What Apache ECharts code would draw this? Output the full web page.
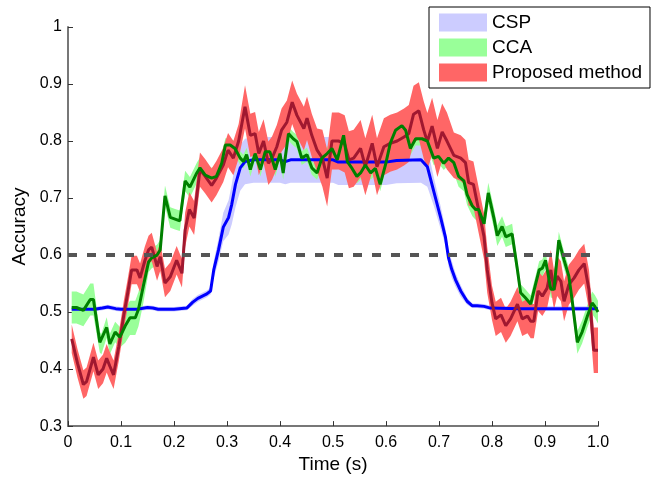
<!DOCTYPE html>
<html lang="en">
<head>
<meta charset="UTF-8">
<title>Accuracy over time</title>
<script src="https://cdn.jsdelivr.net/npm/echarts@6/dist/echarts.min.js"></script>
<style>
    html, body { margin: 0; padding: 0; background: #fff; }
    #chart { width: 662px; height: 479px; }
</style>
</head>
<body>
<div id="chart"></div>
<script type="text/javascript">
    // CSP: time, mean accuracy, half-width of the shaded band
    var cspT = [0.007, 0.030, 0.050, 0.065, 0.075, 0.090, 0.100, 0.130, 0.150, 0.160,
                0.170, 0.200, 0.224, 0.235, 0.245, 0.262, 0.269, 0.275, 0.284, 0.293,
                0.303, 0.309, 0.316, 0.325, 0.334, 0.350, 0.400, 0.410, 0.420, 0.500,
                0.510, 0.600, 0.620, 0.666, 0.678, 0.690, 0.703, 0.712, 0.718, 0.724,
                0.731, 0.741, 0.753, 0.763, 0.772, 0.785, 0.797, 0.850, 1.000];
    var cspV = [0.505, 0.505, 0.505, 0.507, 0.509, 0.506, 0.505, 0.505, 0.508, 0.507,
                0.505, 0.505, 0.507, 0.517, 0.524, 0.532, 0.537, 0.574, 0.609, 0.649,
                0.666, 0.689, 0.724, 0.753, 0.764, 0.767, 0.767, 0.764, 0.767, 0.767,
                0.763, 0.763, 0.766, 0.767, 0.755, 0.712, 0.666, 0.632, 0.595, 0.575,
                0.557, 0.537, 0.519, 0.511, 0.511, 0.510, 0.507, 0.506, 0.506];
    var cspErr = [0.004, 0.004, 0.004, 0.004, 0.004, 0.004, 0.004, 0.004, 0.004, 0.004,
                  0.004, 0.004, 0.004, 0.006, 0.006, 0.006, 0.006, 0.015, 0.020, 0.025,
                  0.030, 0.035, 0.040, 0.040, 0.040, 0.040, 0.040, 0.040, 0.040, 0.040,
                  0.040, 0.040, 0.040, 0.040, 0.035, 0.025, 0.020, 0.015, 0.015, 0.015,
                  0.012, 0.010, 0.006, 0.004, 0.004, 0.004, 0.004, 0.004, 0.004];

    // CCA
    var ccaT = [0.007, 0.016, 0.029, 0.042, 0.048, 0.060, 0.063, 0.073, 0.079, 0.089,
                0.098, 0.108, 0.117, 0.127, 0.133, 0.142, 0.152, 0.158, 0.168, 0.174,
                0.183, 0.193, 0.202, 0.211, 0.221, 0.230, 0.243, 0.249, 0.259, 0.271,
                0.280, 0.290, 0.297, 0.306, 0.315, 0.325, 0.331, 0.337, 0.344, 0.353,
                0.363, 0.372, 0.381, 0.391, 0.400, 0.406, 0.416, 0.425, 0.432, 0.441,
                0.451, 0.460, 0.470, 0.479, 0.489, 0.498, 0.508, 0.520, 0.527, 0.536,
                0.545, 0.552, 0.561, 0.571, 0.580, 0.589, 0.599, 0.608, 0.618, 0.630,
                0.637, 0.646, 0.656, 0.668, 0.678, 0.690, 0.699, 0.709, 0.718, 0.728,
                0.737, 0.747, 0.753, 0.763, 0.769, 0.775, 0.785, 0.793, 0.804, 0.810,
                0.819, 0.826, 0.838, 0.848, 0.854, 0.863, 0.873, 0.882, 0.889, 0.895,
                0.901, 0.911, 0.917, 0.926, 0.936, 0.945, 0.951, 0.961, 0.970, 0.980,
                0.989, 0.994, 1.000];
    var ccaV = [0.508, 0.508, 0.503, 0.522, 0.522, 0.447, 0.444, 0.473, 0.444, 0.465,
                0.456, 0.476, 0.490, 0.490, 0.505, 0.545, 0.588, 0.595, 0.600, 0.609,
                0.704, 0.666, 0.663, 0.660, 0.730, 0.719, 0.744, 0.753, 0.740, 0.735,
                0.738, 0.761, 0.793, 0.793, 0.787, 0.770, 0.764, 0.776, 0.750, 0.778,
                0.750, 0.781, 0.781, 0.750, 0.778, 0.744, 0.813, 0.804, 0.799, 0.770,
                0.776, 0.753, 0.744, 0.770, 0.778, 0.787, 0.767, 0.810, 0.764, 0.752,
                0.738, 0.744, 0.758, 0.744, 0.752, 0.724, 0.758, 0.796, 0.819, 0.827,
                0.819, 0.787, 0.804, 0.804, 0.800, 0.770, 0.773, 0.761, 0.770, 0.762,
                0.738, 0.730, 0.706, 0.686, 0.680, 0.680, 0.655, 0.709, 0.663, 0.634,
                0.650, 0.632, 0.637, 0.574, 0.534, 0.525, 0.514, 0.548, 0.574, 0.577,
                0.591, 0.540, 0.540, 0.626, 0.591, 0.563, 0.522, 0.447, 0.465, 0.493,
                0.516, 0.510, 0.500];
    var ccaErr = [0.028, 0.028, 0.028, 0.028, 0.028, 0.018, 0.018, 0.018, 0.018, 0.018,
                  0.018, 0.030, 0.030, 0.030, 0.030, 0.030, 0.018, 0.018, 0.018, 0.018,
                  0.018, 0.018, 0.018, 0.018, 0.018, 0.018, 0.018, 0.018, 0.018, 0.018,
                  0.018, 0.018, 0.012, 0.012, 0.012, 0.012, 0.012, 0.012, 0.012, 0.012,
                  0.012, 0.012, 0.012, 0.012, 0.012, 0.012, 0.012, 0.012, 0.012, 0.012,
                  0.012, 0.012, 0.012, 0.012, 0.012, 0.012, 0.012, 0.012, 0.012, 0.012,
                  0.012, 0.012, 0.012, 0.012, 0.012, 0.012, 0.012, 0.012, 0.012, 0.012,
                  0.012, 0.012, 0.012, 0.012, 0.012, 0.012, 0.012, 0.012, 0.012, 0.018,
                  0.018, 0.018, 0.018, 0.018, 0.018, 0.018, 0.018, 0.018, 0.018, 0.018,
                  0.018, 0.018, 0.018, 0.015, 0.015, 0.015, 0.015, 0.015, 0.015, 0.015,
                  0.015, 0.015, 0.015, 0.015, 0.015, 0.015, 0.015, 0.020, 0.020, 0.020,
                  0.020, 0.020, 0.020];

    // Proposed method
    var propT = [0.007, 0.018, 0.029, 0.035, 0.048, 0.057, 0.066, 0.073, 0.079, 0.086,
                 0.096, 0.105, 0.113, 0.120, 0.130, 0.136, 0.145, 0.152, 0.158, 0.168,
                 0.174, 0.183, 0.193, 0.205, 0.215, 0.221, 0.229, 0.238, 0.249, 0.259,
                 0.271, 0.280, 0.293, 0.302, 0.312, 0.322, 0.334, 0.344, 0.353, 0.360,
                 0.369, 0.378, 0.385, 0.394, 0.403, 0.413, 0.423, 0.432, 0.445, 0.451,
                 0.460, 0.470, 0.480, 0.489, 0.498, 0.511, 0.522, 0.530, 0.539, 0.552,
                 0.561, 0.574, 0.583, 0.596, 0.608, 0.621, 0.634, 0.643, 0.652, 0.662,
                 0.671, 0.678, 0.687, 0.697, 0.706, 0.715, 0.728, 0.741, 0.750, 0.756,
                 0.765, 0.775, 0.785, 0.791, 0.800, 0.807, 0.817, 0.826, 0.835, 0.848,
                 0.857, 0.867, 0.873, 0.879, 0.887, 0.895, 0.904, 0.911, 0.917, 0.923,
                 0.930, 0.936, 0.945, 0.955, 0.964, 0.974, 0.983, 0.992, 1.000];
    var propV = [0.453, 0.410, 0.373, 0.378, 0.421, 0.390, 0.400, 0.419, 0.405, 0.390,
                 0.440, 0.493, 0.535, 0.574, 0.574, 0.560, 0.590, 0.609, 0.614, 0.580,
                 0.597, 0.551, 0.562, 0.591, 0.568, 0.644, 0.680, 0.665, 0.750, 0.738,
                 0.722, 0.735, 0.758, 0.784, 0.770, 0.800, 0.860, 0.810, 0.813, 0.778,
                 0.800, 0.761, 0.770, 0.790, 0.819, 0.833, 0.868, 0.845, 0.822, 0.840,
                 0.810, 0.784, 0.770, 0.735, 0.800, 0.800, 0.795, 0.767, 0.770, 0.787,
                 0.755, 0.796, 0.755, 0.790, 0.796, 0.800, 0.807, 0.813, 0.847, 0.853,
                 0.820, 0.799, 0.826, 0.787, 0.816, 0.800, 0.775, 0.770, 0.762, 0.727,
                 0.724, 0.678, 0.632, 0.574, 0.516, 0.488, 0.495, 0.476, 0.488, 0.514,
                 0.488, 0.493, 0.484, 0.484, 0.537, 0.528, 0.542, 0.574, 0.539, 0.563,
                 0.554, 0.519, 0.548, 0.560, 0.574, 0.585, 0.539, 0.433, 0.433];
    var propErr = [0.025, 0.025, 0.025, 0.025, 0.025, 0.025, 0.025, 0.025, 0.025, 0.025,
                   0.025, 0.025, 0.025, 0.025, 0.025, 0.025, 0.025, 0.025, 0.025, 0.025,
                   0.025, 0.025, 0.025, 0.025, 0.025, 0.030, 0.030, 0.030, 0.030, 0.030,
                   0.030, 0.030, 0.030, 0.030, 0.030, 0.030, 0.038, 0.038, 0.038, 0.038,
                   0.038, 0.038, 0.038, 0.038, 0.038, 0.038, 0.038, 0.038, 0.038, 0.038,
                   0.038, 0.038, 0.050, 0.050, 0.050, 0.050, 0.050, 0.050, 0.050, 0.050,
                   0.050, 0.050, 0.050, 0.050, 0.050, 0.050, 0.050, 0.050, 0.050, 0.050,
                   0.050, 0.050, 0.050, 0.050, 0.050, 0.050, 0.040, 0.040, 0.040, 0.040,
                   0.040, 0.040, 0.040, 0.040, 0.030, 0.030, 0.030, 0.030, 0.030, 0.030,
                   0.030, 0.030, 0.030, 0.030, 0.035, 0.035, 0.035, 0.035, 0.035, 0.035,
                   0.035, 0.035, 0.035, 0.035, 0.035, 0.035, 0.035, 0.040, 0.040];

    var chanceLevel = 0.6;
    var font = 'Liberation Sans, Arial, Helvetica, sans-serif';

    function pairs(t, v) {
        return t.map(function (x, i) { return [x, v[i]]; });
    }

    // shaded band: polygon over upper edge, back along lower edge
    function band(name, t, v, e, color) {
        return {
            name: name,
            type: 'custom',
            z: 1,
            silent: true,
            itemStyle: { color: color },
            data: [[t[0], v[0]]],
            renderItem: function (params, api) {
                var pts = [];
                for (var i = 0; i < t.length; i++) pts.push(api.coord([t[i], v[i] + e[i]]));
                for (var j = t.length - 1; j >= 0; j--) pts.push(api.coord([t[j], v[j] - e[j]]));
                return { type: 'polygon', shape: { points: pts }, style: { fill: color } };
            }
        };
    }

    function line(name, t, v, color, z) {
        return {
            name: name,
            type: 'line',
            z: z,
            data: pairs(t, v),
            showSymbol: false,
            silent: true,
            lineStyle: { color: color, width: 3 },
            itemStyle: { color: color }
        };
    }

    var chart = echarts.init(document.getElementById('chart'));
    chart.setOption({
        animation: false,
        textStyle: { fontFamily: font },
        grid: { left: 68, right: 64, top: 27, bottom: 47, containLabel: false },
        legend: {
            orient: 'vertical',
            left: 429,
            top: 7,
            padding: [5, 8, 5, 10],
            itemGap: 4,
            itemWidth: 48,
            itemHeight: 18,
            selectedMode: false,
            backgroundColor: '#fff',
            borderColor: '#000',
            borderWidth: 1,
            borderRadius: 0,
            textStyle: { fontSize: 19, color: '#000', lineHeight: 21, fontFamily: font },
            data: [
                { name: 'CSP', icon: 'rect', itemStyle: { color: '#ccccff', borderWidth: 0 } },
                { name: 'CCA', icon: 'rect', itemStyle: { color: '#99ff99', borderWidth: 0 } },
                { name: 'Proposed method', icon: 'rect', itemStyle: { color: '#ff6666', borderWidth: 0 } }
            ]
        },
        xAxis: {
            type: 'value',
            min: 0,
            max: 1,
            interval: 0.1,
            name: 'Time (s)',
            nameLocation: 'middle',
            nameGap: 24,
            nameTextStyle: { fontSize: 19, color: '#000', fontFamily: font },
            axisLine: { lineStyle: { color: '#777', width: 2 } },
            axisTick: { inside: true, length: 5, lineStyle: { color: '#333', width: 1 } },
            splitLine: { show: false },
            axisLabel: {
                color: '#000', fontSize: 16, margin: 8, fontFamily: font,
                formatter: function (v) { return v === 0 ? '0' : v.toFixed(1); }
            }
        },
        yAxis: {
            type: 'value',
            min: 0.3,
            max: 1,
            interval: 0.1,
            name: 'Accuracy',
            nameLocation: 'middle',
            nameRotate: 90,
            nameGap: 35,
            nameTextStyle: { fontSize: 19, color: '#000', fontFamily: font },
            axisLine: { show: true, lineStyle: { color: '#777', width: 2 } },
            axisTick: { show: true, inside: true, length: 5, lineStyle: { color: '#333', width: 1 } },
            splitLine: { show: false },
            axisLabel: {
                color: '#000', fontSize: 16, margin: 6, fontFamily: font,
                formatter: function (v) { return v > 0.999 ? '1' : v.toFixed(1); }
            }
        },
        series: [
            band('CSP', cspT, cspV, cspErr, '#ccccff'),
            band('CCA', ccaT, ccaV, ccaErr, '#99ff99'),
            band('Proposed method', propT, propV, propErr, '#ff6666'),
            line('CSP', cspT, cspV, '#0000ff', 3),
            line('Proposed method', propT, propV, '#a01830', 4),
            line('CCA', ccaT, ccaV, '#008000', 5),
            {
                name: 'chance',
                type: 'line',
                z: 6,
                silent: true,
                showSymbol: false,
                data: [[0, chanceLevel], [1, chanceLevel]],
                lineStyle: { color: '#555', width: 4, type: [9, 10] }
            }
        ]
    });
</script>
</body>
</html>
